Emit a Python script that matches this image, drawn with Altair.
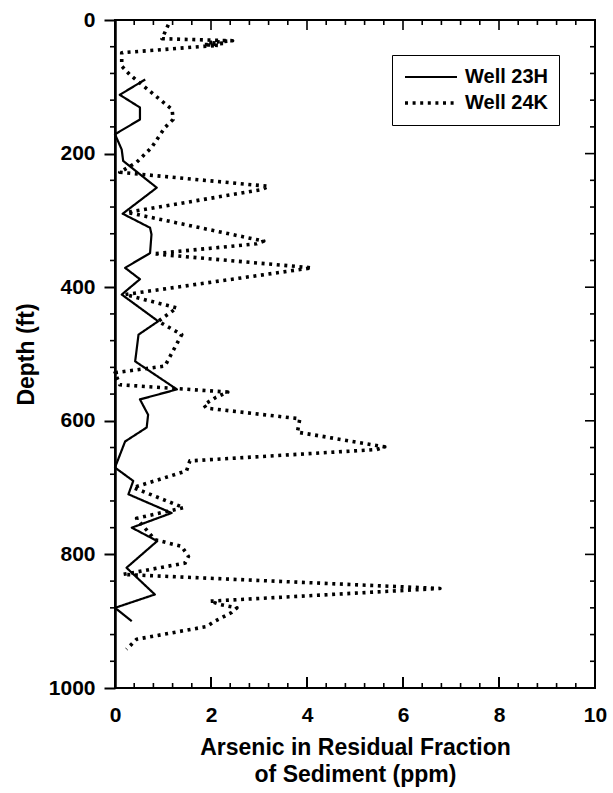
import altair as alt
import pandas as pd

# Arsenic profiles (ppm) against depth (ft) for two wells
well_names = ["Well 23H", "Well 24K"]

w23_depth = [89, 112, 131, 149, 171, 194, 211, 251, 290, 311, 321, 349, 371, 388,
             411, 451, 471, 511, 553, 568, 591, 610, 631, 670, 690, 710, 738, 760,
             780, 820, 860, 880, 900]
w23_ppm = [0.63, 0.10, 0.52, 0.52, 0.00, 0.14, 0.17, 0.87, 0.16, 0.73, 0.76, 0.73,
           0.21, 0.52, 0.14, 0.90, 0.49, 0.42, 1.29, 0.52, 0.69, 0.66, 0.21, 0.00,
           0.38, 0.28, 1.18, 0.35, 0.88, 0.24, 0.83, 0.00, 0.35]

w24_depth = [7, 28, 31, 34, 35, 37, 38, 40, 49, 69, 82, 134, 149, 161, 191, 213,
             228, 249, 254, 288, 331, 335, 350, 371, 411, 431, 451, 471, 518, 528,
             546, 557, 565, 576, 581, 597, 617, 639, 643, 660, 675, 700, 730, 746,
             778, 788, 803, 813, 830, 851, 870, 875, 880, 887, 900, 908, 927, 942]
w24_ppm = [1.11, 0.98, 2.45, 1.95, 2.30, 1.85, 2.15, 1.75, 0.14, 0.14, 0.31, 1.19,
           1.21, 1.04, 0.76, 0.45, 0.10, 3.20, 3.05, 0.25, 3.10, 2.95, 0.80, 4.10,
           0.21, 1.29, 0.90, 1.39, 1.04, 0.00, 0.10, 2.35, 2.10, 1.85, 1.90, 3.85,
           3.80, 5.62, 5.45, 1.56, 1.49, 0.38, 1.43, 0.45, 0.83, 1.39, 1.53, 1.46,
           0.17, 6.77, 1.98, 2.19, 2.54, 2.43, 2.08, 1.91, 0.45, 0.24]

# Axis tick positions
depth_major = [0, 200, 400, 600, 800, 1000]
depth_minor = [40, 80, 120, 160, 240, 280, 320, 360, 440, 480, 520, 560,
               640, 680, 720, 760, 840, 880, 920, 960]
ppm_major = [0, 2, 4, 6, 8, 10]
ppm_minor = [0.4, 0.8, 1.2, 1.6, 2.4, 2.8, 3.2, 3.6, 4.4, 4.8, 5.2, 5.6,
             6.4, 6.8, 7.2, 7.6, 8.4, 8.8, 9.2, 9.6]

W, H = 480, 668
FONT = "Liberation Sans"

profiles = pd.concat([
    pd.DataFrame({"well": well_names[0], "depth": w23_depth, "ppm": w23_ppm,
                  "i": range(len(w23_depth))}),
    pd.DataFrame({"well": well_names[1], "depth": w24_depth, "ppm": w24_ppm,
                  "i": range(len(w24_depth))}),
])

x_scale = alt.Scale(domain=[0, 10], nice=False, zero=False)
y_scale = alt.Scale(domain=[0, 1000], nice=False, zero=False, reverse=True)

X = alt.X(
    "ppm:Q", scale=x_scale,
    axis=alt.Axis(
        values=ppm_major, format="d", tickSize=0, domain=False, grid=False,
        labelFont=FONT, labelFontSize=21, labelFontWeight="bold", labelColor="black",
        labelPadding=16, labelFlush=False,
        title=["Arsenic in Residual Fraction", "of Sediment (ppm)"],
        titleFont=FONT, titleFontSize=23, titleFontWeight="bold", titleColor="black",
        titlePadding=11, titleLineHeight=27,
    ),
)
Y = alt.Y(
    "depth:Q", scale=y_scale,
    axis=alt.Axis(
        values=depth_major, format="d", tickSize=11, tickWidth=2, tickColor="black",
        domainColor="black", domainWidth=2.5, grid=False,
        labelFont=FONT, labelFontSize=21, labelFontWeight="bold", labelColor="black",
        labelPadding=9, labelFlush=False,
        title="Depth (ft)", titleFont=FONT, titleFontSize=23,
        titleFontWeight="bold", titleColor="black", titlePadding=10,
    ),
)

lines = alt.Chart(profiles).mark_line(
    color="black", strokeCap="butt", strokeJoin="round"
).encode(
    x=X, y=Y, order=alt.Order("i:Q"),
    strokeDash=alt.StrokeDash(
        "well:N",
        scale=alt.Scale(domain=well_names, range=[[1, 0], [3, 4.6]]),
        legend=alt.Legend(
            orient="none", legendX=277, legendY=35, title=None,
            symbolSize=2704, clipHeight=22, symbolStrokeColor="black",
            labelFont=FONT, labelFontSize=20, labelFontWeight="bold",
            labelColor="black", labelOffset=6,
            strokeColor="black", fillColor="white", padding=11, rowPadding=4,
        ),
    ),
    strokeWidth=alt.StrokeWidth(
        "well:N", scale=alt.Scale(domain=well_names, range=[2.2, 3.6]), legend=None
    ),
)

y_minor_df = pd.DataFrame({"depth": depth_minor})
y_major_df = pd.DataFrame({"depth": depth_major})
x_minor_df = pd.DataFrame({"ppm": ppm_minor})
x_major_df = pd.DataFrame({"ppm": ppm_major})

tick_style = dict(color="black", strokeWidth=1.6)

# minor ticks outside the left axis
left_minor = alt.Chart(y_minor_df).mark_rule(**tick_style).encode(
    y=Y, x=alt.value(-5), x2=alt.value(0))
# inward ticks along the right edge
right_minor = alt.Chart(y_minor_df).mark_rule(**tick_style).encode(
    y=Y, x=alt.value(W - 5), x2=alt.value(W))
right_major = alt.Chart(y_major_df).mark_rule(**tick_style).encode(
    y=Y, x=alt.value(W - 10), x2=alt.value(W))
# inward ticks along the top and bottom edges
top_minor = alt.Chart(x_minor_df).mark_rule(**tick_style).encode(
    x=X, y=alt.value(0), y2=alt.value(5))
top_major = alt.Chart(x_major_df).mark_rule(**tick_style).encode(
    x=X, y=alt.value(0), y2=alt.value(10))
bottom_minor = alt.Chart(x_minor_df).mark_rule(**tick_style).encode(
    x=X, y=alt.value(H - 5), y2=alt.value(H))
bottom_major = alt.Chart(x_major_df).mark_rule(color="black", strokeWidth=2).encode(
    x=X, y=alt.value(H - 11), y2=alt.value(H))

chart = alt.layer(
    left_minor, right_minor, right_major, top_minor, top_major,
    bottom_minor, bottom_major, lines,
).properties(
    width=W, height=H,
    autosize=alt.AutoSizeParams(type="none"),
    padding={"left": 115, "top": 20, "right": 18, "bottom": 105},
    background="white",
).configure_view(
    stroke="black", strokeWidth=2
)

chart.save("out.html", embed_options={"renderer": "svg", "actions": False})
